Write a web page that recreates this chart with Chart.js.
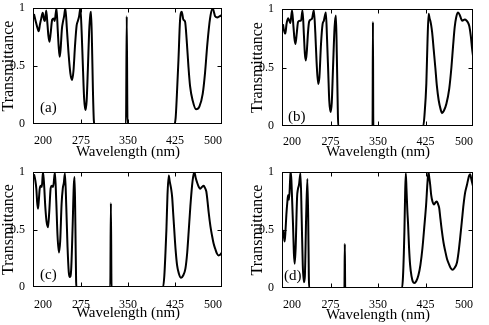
<!DOCTYPE html>
<html>
<head>
<meta charset="utf-8">
<script src="https://cdn.jsdelivr.net/npm/chart.js@4.4.1/dist/chart.umd.min.js"></script>
<style>
  html, body { margin: 0; padding: 0; background: #fff; }
  body { width: 489px; height: 325px; position: relative; overflow: hidden; }
  canvas { position: absolute; }
</style>
</head>
<body>
<canvas id="chartA" width="244" height="162" style="left:0;top:0"></canvas>
<canvas id="chartB" width="245" height="162" style="left:244px;top:0"></canvas>
<canvas id="chartC" width="244" height="165" style="left:0;top:160px"></canvas>
<canvas id="chartD" width="245" height="165" style="left:244px;top:160px"></canvas>
<script>
// Transmittance spectra of four structures, wavelength in nm
const wlA = [200, 203, 206, 207.5, 209.5, 211.5, 214, 216, 217.5, 219.5, 221.5, 223, 224.7, 226.5, 229, 231.5, 233, 235.8,
  238, 239.5, 241, 242.5, 244.5, 246.5, 248, 250, 252.5, 255, 258, 260.8, 263, 265.5, 268, 270, 272, 274,
  276, 278, 280, 282, 284, 286, 288, 290, 291, 292.5, 294, 295.5, 296.5, 346.8, 348, 349.2,
  424, 426, 428, 430.5, 433, 435.8, 437, 438.4, 441, 443.7, 446.4, 449, 453.3, 458.6, 463.9, 469.2, 472.9,
  476.6, 480.9, 485.2, 487, 489, 492.6, 496, 500];
const trA = [0.95, 0.88, 0.82, 0.80, 0.86, 0.91, 0.96, 0.90, 0.89, 0.98, 0.86, 0.76, 0.71, 0.78, 0.90, 0.91, 0.89, 1.0,
  0.80, 0.66, 0.58, 0.65, 0.82, 0.89, 0.93, 1.0, 0.82, 0.62, 0.44, 0.38, 0.46, 0.68, 0.85, 0.89, 0.93, 1.0,
  0.80, 0.50, 0.22, 0.12, 0.20, 0.48, 0.80, 0.95, 0.97, 0.70, 0.30, 0.03, 0, 0, 0.93, 0,
  0, 0.05, 0.25, 0.55, 0.89, 0.97, 0.94, 0.90, 0.885, 0.72, 0.50, 0.33, 0.20, 0.127, 0.15, 0.26, 0.44,
  0.69, 0.91, 1.0, 0.97, 0.93, 0.92, 0.93, 0.94];

const wlB = [200, 201.5, 203.7, 205.5, 208, 210, 211.6, 214.3, 216.5, 218, 219.6, 221.5, 223.8, 226.5, 228.5, 230.8,
  233, 234.5, 236, 237.5, 239.5, 241.2, 244, 246, 248.7, 251, 253, 255.5, 257.5, 260, 262.5, 264.5, 267.7,
  269.5, 271.5, 273, 275.1, 277, 279, 281.5, 283.6, 285, 286.5, 287.2, 341.4, 342, 342.6,
  421.5, 423.5, 426.3, 428.3, 430, 431.5, 432.6, 434, 435.5, 438, 440.5, 443, 445.8, 449, 451, 454, 458, 462.5,
  465.9, 468.5, 471.1, 473.5, 476.5, 479, 481, 483, 487, 490, 492.5, 494.3, 496.5, 498.6, 500];
const trB = [0.87, 0.82, 0.79, 0.87, 0.92, 0.90, 0.88, 0.99, 0.85, 0.75, 0.70, 0.78, 0.89, 0.90, 0.90, 0.99,
  0.78, 0.62, 0.56, 0.63, 0.80, 0.89, 0.91, 0.92, 0.99, 0.80, 0.55, 0.36, 0.42, 0.70, 0.87, 0.90, 0.97,
  0.75, 0.45, 0.22, 0.12, 0.20, 0.50, 0.85, 0.945, 0.60, 0.15, 0, 0, 0.89, 0,
  0, 0.10, 0.36, 0.75, 0.96, 0.92, 0.90, 0.86, 0.80, 0.65, 0.50, 0.34, 0.22, 0.14, 0.11, 0.13, 0.19, 0.32,
  0.50, 0.68, 0.845, 0.93, 0.97, 0.95, 0.92, 0.90, 0.91, 0.90, 0.88, 0.85, 0.77, 0.66, 0.60];

const wlC = [200, 202, 203.8, 205, 206.4, 207.8, 209, 211, 212.5, 214.3, 216, 218, 220, 222.3, 224.3, 226.6, 228.5,
  230.5, 233.4, 235.5, 237.5, 239.8, 241.8, 244, 246, 247.5, 249.4, 251.5, 253.5, 255.5, 257.3, 259.3, 261.5,
  263.5, 264.8, 266, 267.2, 267.8, 321.7, 322.7, 323.7,
  406, 408, 409.8, 411.3, 413, 415, 416.5, 418.8, 420.5, 422, 424, 426, 428.3, 431, 434.7, 438, 441.6, 444.5,
  446.8, 449.5, 452.2, 454, 455.9, 458, 460.2, 463, 465.4, 468, 470.7, 473, 475, 477, 478.7, 481.5, 484, 486.5,
  489.3, 492, 494.6, 497, 500];
const trC = [0.98, 0.93, 0.85, 0.74, 0.68, 0.76, 0.85, 0.88, 0.87, 1.0, 0.90, 0.70, 0.57, 0.52, 0.65, 0.86, 0.88,
  0.87, 1.0, 0.75, 0.45, 0.30, 0.40, 0.72, 0.86, 0.90, 0.99, 0.70, 0.35, 0.13, 0.087, 0.15, 0.50,
  0.88, 0.957, 0.55, 0.05, 0, 0, 0.73, 0,
  0, 0.10, 0.30, 0.50, 0.80, 0.97, 0.92, 0.855, 0.78, 0.65, 0.48, 0.32, 0.19, 0.12, 0.08, 0.10, 0.16, 0.30,
  0.48, 0.70, 0.88, 0.96, 1.0, 0.95, 0.91, 0.87, 0.855, 0.87, 0.88, 0.86, 0.83, 0.74, 0.65, 0.53, 0.45, 0.38,
  0.33, 0.29, 0.275, 0.28, 0.30];

const wlD = [200, 201.5, 202.7, 204, 205.3, 207, 208, 209.5, 211.7, 212.5, 214, 215.8, 217.2, 218.5, 220, 222.2,
  223.5, 225.3, 227.6, 229.5, 231.2, 233, 234.5, 236.5, 238.5, 239.8, 240.8, 241.3, 297, 297.6, 298.2,
  388, 389.5, 390.8, 391.7, 392.8, 393.9, 395, 396.4, 397.5, 399, 400.7, 403, 405, 407.5, 410.5, 413.8, 417,
  420.2, 423, 426, 428, 429.7, 431, 432.4, 434, 436, 438.5, 441, 443, 445, 446.6, 448.5, 450.9, 453.5, 456.1,
  459, 462.5, 465, 467.7, 470.5, 474.7, 477, 479.9, 482.5, 485.1, 487.5, 490.5, 492.5, 494.1, 495.5, 497.3,
  499, 500];
const trD = [0.50, 0.44, 0.40, 0.50, 0.63, 0.75, 0.80, 0.76, 0.98, 1.0, 0.82, 0.55, 0.30, 0.21, 0.35, 0.78,
  0.85, 0.89, 0.99, 0.60, 0.20, 0.05, 0.10, 0.60, 0.94, 0.60, 0.10, 0, 0, 0.38, 0,
  0, 0.10, 0.30, 0.49, 0.80, 0.99, 0.85, 0.66, 0.55, 0.35, 0.20, 0.10, 0.055, 0.043, 0.06, 0.11, 0.20,
  0.345, 0.52, 0.72, 0.90, 1.0, 0.95, 0.89, 0.80, 0.745, 0.72, 0.74, 0.745, 0.72, 0.69, 0.60, 0.49, 0.39, 0.32,
  0.25, 0.20, 0.17, 0.158, 0.17, 0.22, 0.30, 0.44, 0.58, 0.72, 0.82, 0.89, 0.94, 0.97, 0.98, 0.94,
  0.90, 0.88];

// axis tick values
const xTicks = [200, 275, 350, 425, 500];
const yTicks = [0, 0.5, 1];

const SERIF = '"Liberation Serif", "Times New Roman", serif';
Chart.defaults.font.family = SERIF;
Chart.defaults.color = '#000';

// plot frame, inward tick marks and panel letter
const framePlugin = {
  id: 'frame',
  afterDraw(chart, args, opts) {
    const { ctx, chartArea: a, scales: { x, y } } = chart;
    const L = Math.round(a.left) - 0.5, R = Math.round(a.right) - 0.5;
    const T = Math.round(a.top) + 0.5, B = Math.round(a.bottom) - 0.5;
    ctx.save();
    ctx.strokeStyle = '#000';
    ctx.lineWidth = 1;
    ctx.strokeRect(L, T, R - L, B - T);
    ctx.beginPath();
    x.ticks.forEach(t => {
      if (t.value === x.min || t.value === x.max) return;
      const px = Math.round(x.getPixelForValue(t.value)) + 0.5;
      ctx.moveTo(px, T); ctx.lineTo(px, T + 4);
      ctx.moveTo(px, B); ctx.lineTo(px, B - 4);
    });
    y.ticks.forEach(t => {
      if (t.value === y.min || t.value === y.max) return;
      const py = Math.round(y.getPixelForValue(t.value)) + 0.5;
      ctx.moveTo(L, py); ctx.lineTo(L + 4, py);
      ctx.moveTo(R, py); ctx.lineTo(R - 4, py);
    });
    ctx.stroke();
    ctx.fillStyle = '#000';
    ctx.font = '15px ' + SERIF;
    ctx.textBaseline = 'middle';
    ctx.fillText(opts.text, a.left + opts.dx, a.bottom - opts.dy);
    ctx.restore();
  }
};

const panels = [
  { id: 'chartA', wl: wlA, tr: trA, w: 244, h: 162, area: [34, 8, 222, 124], tickPad: 2, xTitlePad: 1, yTitlePad: 0.5, letter: '(a)', dx: 6, dy: 16 },
  { id: 'chartB', wl: wlB, tr: trB, w: 245, h: 162, area: [39, 9, 229, 126], tickPad: 1, xTitlePad: 1.3, yTitlePad: 6, letter: '(b)', dx: 5, dy: 9 },
  { id: 'chartC', wl: wlC, tr: trC, w: 244, h: 165, area: [34, 12, 222, 127], tickPad: 3, xTitlePad: 3, yTitlePad: 1, letter: '(c)', dx: 6, dy: 12 },
  { id: 'chartD', wl: wlD, tr: trD, w: 245, h: 165, area: [39, 12, 229, 128], tickPad: 2, xTitlePad: 1, yTitlePad: 5.5, letter: '(d)', dx: 1, dy: 12 }
];

panels.forEach(p => {
  const [left, top, right, bottom] = p.area;
  new Chart(document.getElementById(p.id), {
    type: 'line',
    data: {
      datasets: [{
        data: p.wl.map((w, i) => ({ x: w, y: p.tr[i] })),
        borderColor: '#000',
        borderWidth: 2,
        pointRadius: 0,
        cubicInterpolationMode: 'monotone',
        fill: false
      }]
    },
    options: {
      responsive: false,
      animation: false,
      events: [],
      layout: { padding: { left: 0, top: top, right: p.w - right, bottom: 0 } },
      plugins: {
        legend: { display: false },
        tooltip: { enabled: false },
        frame: { text: p.letter, dx: p.dx, dy: p.dy }
      },
      scales: {
        x: {
          type: 'linear',
          min: 200, max: 500,
          afterBuildTicks: s => { s.ticks = xTicks.map(v => ({ value: v })); },
          afterFit: s => { s.height = p.h - bottom; },
          grid: { display: false },
          border: { display: false },
          ticks: { align: 'inner', padding: p.tickPad, maxRotation: 0, font: { size: 12 }, callback: v => String(v) },
          title: { display: true, text: 'Wavelength (nm)', font: { size: 15 }, padding: { top: 0, bottom: p.xTitlePad } }
        },
        y: {
          type: 'linear',
          min: 0, max: 1,
          afterBuildTicks: s => { s.ticks = yTicks.map(v => ({ value: v })); },
          afterFit: s => { s.width = left; },
          grid: { display: false },
          border: { display: false },
          ticks: { padding: 1, font: { size: 12 }, callback: v => String(v) },
          title: { display: true, text: 'Transmittance', font: { size: 16, lineHeight: 1 }, padding: { top: p.yTitlePad, bottom: 0 } }
        }
      }
    },
    plugins: [framePlugin]
  });
});
</script>
</body>
</html>
